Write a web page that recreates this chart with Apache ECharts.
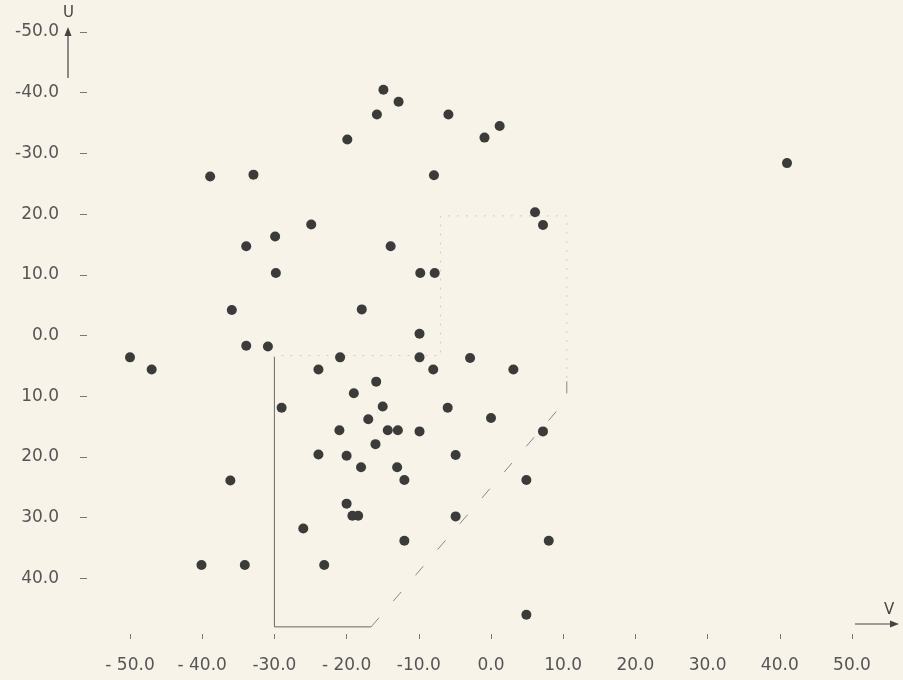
<!DOCTYPE html>
<html>
<head>
<meta charset="utf-8">
<script src="https://cdn.jsdelivr.net/npm/echarts@6/dist/echarts.min.js"></script>
<style>
    html, body { margin: 0; padding: 0; background: #f8f3e9; }
    #chart { width: 903px; height: 680px; }
</style>
</head>
<body>
<div id="chart"></div>
<script>
// star velocities, V (x) and U (y, downward positive)
const vValues = [
    -14.9, -12.8, -15.8, -5.9, -19.9, 1.2, -0.9, -38.9, -32.9, -7.9,
    41.0, 6.1, 7.2, -24.9, -29.9, -33.9, -13.9, -29.8, -9.8, -7.8,
    -17.9, -35.9, -9.9, -33.9, -30.9, -50.0, -47.0, -20.9, -9.9, -2.9,
    3.1, -23.9, -8.0, -15.9, -19.0, -29.0, -15.0, -6.0, -17.0, 0.0,
    -21.0, -14.3, -12.9, -9.9, 7.2, -16.0, -23.9, -20.0, -4.9, -18.0,
    -13.0, -12.0, 4.9, -36.1, -20.0, -19.2, -18.4, -4.9, -26.0, -12.0,
    8.0, -23.1, -40.1, -34.1, 4.9
]
const uValues = [
    -40.5, -38.5, -36.4, -36.4, -32.3, -34.5, -32.6, -26.2, -26.5, -26.4,
    -28.4, -20.3, -18.2, -18.3, -16.3, -14.7, -14.7, -10.3, -10.3, -10.3,
    -4.3, -4.2, -0.3, 1.7, 1.8, 3.6, 5.6, 3.6, 3.6, 3.7,
    5.6, 5.6, 5.6, 7.6, 9.5, 11.9, 11.7, 11.9, 13.8, 13.6,
    15.6, 15.6, 15.6, 15.8, 15.8, 17.9, 19.6, 19.8, 19.7, 21.7,
    21.7, 23.8, 23.8, 23.9, 27.7, 29.7, 29.7, 29.8, 31.8, 33.8,
    33.8, 37.8, 37.8, 37.8, 46.0
]
const xTickLabels = ['- 50.0', '- 40.0', '-30.0', '- 20.0', '-10.0', '0.0', '10.0', '20.0', '30.0', '40.0', '50.0']
const yTickValues = [-50, -40, -30, -20, -10, 0, 10, 20, 30, 40]
const yTickLabels = ['-50.0', '-40.0', '-30.0', '20.0', '10.0', '0.0', '10.0', '20.0', '30.0', '40.0']

// outline of the region box (V, U)
const boxSolid = [[-30, 3.5], [-30, 48], [-16.6, 48]]
const boxDashed = [[-16.6, 48], [10.5, 10.5], [10.5, 7]]
const boxFaint = [[10.5, 7], [10.5, -19.7], [-7, -19.7], [-7, 3.3], [-30, 3.3]]

const points = vValues.map((v, i) => [v, uValues[i]])
const textColor = '#555'
const font = 'DejaVu Sans'

const chart = echarts.init(document.getElementById('chart'))
chart.setOption({
    backgroundColor: '#f8f3e9',
    animation: false,
    grid: { left: 130, right: 51, top: 32, bottom: 41 },
    xAxis: {
        type: 'value',
        min: -50,
        max: 50,
        interval: 10,
        axisLine: { show: false, onZero: false },
        splitLine: { show: false },
        axisTick: { show: true, inside: true, length: 5, lineStyle: { color: '#777', width: 1 } },
        axisLabel: {
            margin: 18,
            color: textColor,
            fontFamily: font,
            fontSize: 17,
            formatter: (val) => xTickLabels[Math.round((val + 50) / 10)]
        }
    },
    yAxis: {
        type: 'value',
        inverse: true,
        min: -50,
        max: 50,
        interval: 10,
        offset: 43,
        axisLine: { show: false, onZero: false },
        splitLine: { show: false },
        axisTick: {
            show: true,
            length: 7,
            customValues: yTickValues,
            lineStyle: { color: '#777', width: 1 }
        },
        axisLabel: {
            margin: 28,
            color: textColor,
            fontFamily: font,
            fontSize: 17,
            customValues: yTickValues,
            formatter: (val) => yTickLabels[yTickValues.indexOf(Math.round(val))]
        }
    },
    series: [
        {
            type: 'line',
            data: boxSolid,
            symbol: 'none',
            lineStyle: { color: '#666', width: 1 },
            z: 1
        },
        {
            type: 'line',
            data: boxDashed,
            symbol: 'none',
            lineStyle: { color: '#888', width: 1, type: [12, 22] },
            z: 1
        },
        {
            type: 'line',
            data: boxFaint,
            symbol: 'none',
            lineStyle: { color: '#d2ccc2', width: 1, type: [2, 7] },
            z: 1
        },
        {
            type: 'scatter',
            data: points,
            symbolSize: 10,
            itemStyle: { color: '#3b3b39', opacity: 1 },
            z: 3
        }
    ],
    graphic: [
        { type: 'line', shape: { x1: 68, y1: 78, x2: 68, y2: 32 }, style: { stroke: '#444', lineWidth: 1.2 } },
        { type: 'polygon', shape: { points: [[68, 27], [64.5, 36], [71.5, 36]] }, style: { fill: '#444' } },
        { type: 'text', left: 63, top: 6, style: { text: 'U', font: '15px DejaVu Sans', fill: '#444' } },
        { type: 'line', shape: { x1: 855, y1: 624, x2: 894, y2: 624 }, style: { stroke: '#444', lineWidth: 1.2 } },
        { type: 'polygon', shape: { points: [[899, 624], [890, 620.5], [890, 627.5]] }, style: { fill: '#444' } },
        { type: 'text', left: 884, top: 603, style: { text: 'V', font: '15px DejaVu Sans', fill: '#444' } }
    ]
})
</script>
</body>
</html>
